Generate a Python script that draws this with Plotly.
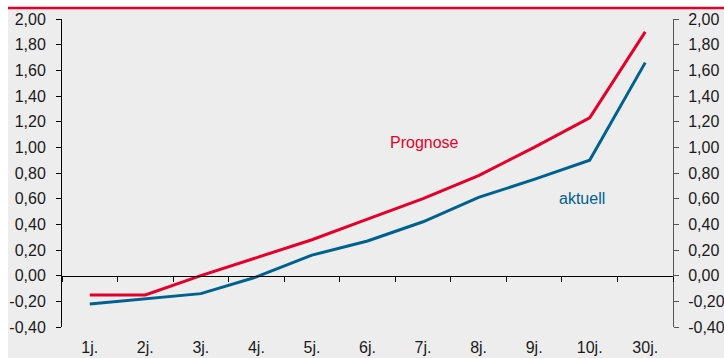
import plotly.graph_objects as go

categories = ["1j.", "2j.", "3j.", "4j.", "5j.", "6j.", "7j.", "8j.", "9j.", "10j.", "30j."]
prognose = [-0.15, -0.15, 0.00, 0.14, 0.28, 0.44, 0.60, 0.78, 1.00, 1.23, 1.90]
aktuell = [-0.22, -0.18, -0.14, -0.01, 0.16, 0.27, 0.42, 0.61, 0.75, 0.90, 1.66]
y_ticks = [-0.4, -0.2, 0.0, 0.2, 0.4, 0.6, 0.8, 1.0, 1.2, 1.4, 1.6, 1.8, 2.0]
y_labels = [f"{v:.2f}".replace(".", ",") for v in y_ticks]

RED = "#e4002b"
BLUE = "#00618f"
BG = "#ededed"
FONT = "Liberation Sans, Arial, sans-serif"

fig = go.Figure()
fig.add_trace(go.Scatter(x=categories, y=prognose, mode="lines", name="Prognose",
                         line=dict(color=RED, width=3), xaxis="x", yaxis="y"))
fig.add_trace(go.Scatter(x=categories, y=aktuell, mode="lines", name="aktuell",
                         line=dict(color=BLUE, width=3), xaxis="x", yaxis="y"))
# invisible traces to activate secondary axes
fig.add_trace(go.Scatter(x=categories, y=[None] * len(categories), mode="lines",
                         showlegend=False, hoverinfo="skip", xaxis="x2", yaxis="y2"))

fig.update_layout(
    width=724, height=358,
    margin=dict(l=62, r=51, t=19, b=31, autoexpand=False),
    paper_bgcolor="white",
    plot_bgcolor="rgba(0,0,0,0)",
    showlegend=False,
    font=dict(family=FONT, size=16, color="#1a1a1a"),
    xaxis=dict(type="category", categoryorder="array", categoryarray=categories,
               range=[-0.5, 10.5], showline=False, ticks="", showgrid=False,
               zeroline=False, ticklabelstandoff=9, automargin=False),
    xaxis2=dict(type="category", categoryorder="array", categoryarray=categories,
                range=[-0.5, 10.5], overlaying="x", anchor="free", position=1/6,
                side="bottom", showline=True, linecolor="black", linewidth=1,
                ticks="outside", ticklen=5, tickcolor="black", tickson="boundaries",
                showticklabels=False, showgrid=False, zeroline=False, automargin=False),
    yaxis=dict(range=[-0.4, 2.0], tickvals=y_ticks, ticktext=y_labels,
               showline=True, linecolor="black", linewidth=1,
               ticks="outside", ticklen=5, tickcolor="black",
               showgrid=False, zeroline=False, ticklabelstandoff=7, automargin=False),
    yaxis2=dict(range=[-0.4, 2.0], tickvals=y_ticks, ticktext=y_labels,
                overlaying="y", side="right", anchor="x",
                showline=True, linecolor="#555555", linewidth=1,
                ticks="outside", ticklen=5, tickcolor="#555555",
                showgrid=False, zeroline=False, ticklabelstandoff=6, automargin=False),
)

# background panel and red top rule
fig.add_shape(type="rect", xref="paper", yref="paper",
              x0=-0.0884, x1=1.09, y0=-0.11, y1=1.0325,
              fillcolor=BG, line=dict(width=0), layer="below")
fig.add_shape(type="line", xref="paper", yref="paper",
              x0=-0.0884, x1=1.09, y0=1.0357, y1=1.0357,
              line=dict(color=RED, width=2.5), layer="below")

fig.add_annotation(x=6.03, y=1.04, xref="x", yref="y", text="Prognose",
                   showarrow=False, font=dict(color=RED, size=16, family=FONT))
fig.add_annotation(x=8.86, y=0.60, xref="x", yref="y", text="aktuell",
                   showarrow=False, font=dict(color=BLUE, size=16, family=FONT))

fig.write_html("out.html")
